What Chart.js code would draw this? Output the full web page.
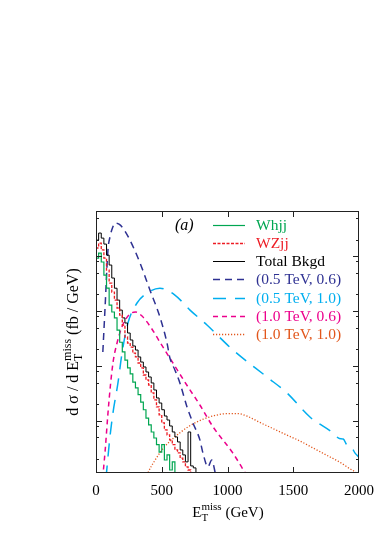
<!DOCTYPE html>
<html><head><meta charset="utf-8">
<script src="https://cdn.jsdelivr.net/npm/chart.js@4/dist/chart.umd.min.js"></script>
<style>html,body{margin:0;padding:0;background:#fff}canvas{display:block}</style>
</head><body>
<canvas id="c" width="385" height="550"></canvas>
<script>
// ---- data ----
const xTickLabels = [0, 500, 1000, 1500, 2000];
const xMajorTicks = [500, 1000, 1500];
const yMajorTicks = [0.001, 0.01, 0.1, 1];
const yMinorTicks = [0.0002, 0.0005, 0.0008, 0.002, 0.005, 0.008, 0.02, 0.05, 0.08, 0.2, 0.5, 0.8, 2, 5];

// Whjj histogram (bin lower edges, GeV)
const whjjBins = [0,20,40,60,80,100,120,140,160,180,200,220,240,260,280,300,320,340,360,380,400,420,440,460,480,500,520,540,560,580,600,620];
const whjj = [0.195,0.92,1.13,0.78,0.45,0.26,0.128,0.096,0.075,0.045,0.027,0.018,0.0128,0.0092,0.0072,0.0051,0.0040,0.0030,0.0022,0.0016,0.00113,0.00085,0.00063,0.00049,0.00037,0.00027,0.00037,0.000195,0.000241,0.000128,0.00018,0.00005];

// WZjj histogram
const wzjjBins = [0,20,40,60,80,100,120,140,160,180,200,220,240,260,280,300,320,340,360,380,400,420,440,460,480,500,520,540,560,580,600,620,640,660,680,700,720,740];
const wzjj = [0.78,1.40,1.72,1.29,0.92,0.556,0.323,0.221,0.158,0.1135,0.0845,0.0556,0.0337,0.0262,0.0221,0.0172,0.0146,0.01134,0.0092,0.00686,0.00556,0.00451,0.00323,0.00241,0.0018,0.00129,0.00092,0.000686,0.000556,0.000452,0.00037,0.000297,0.000262,0.00021,0.00018,0.000146,0.000128,0.00005];

// Total background histogram
const totBins = [0,20,40,60,80,100,120,140,160,180,200,220,240,260,280,300,320,340,360,380,400,420,440,460,480,500,520,540,560,580,600,620,640,660,680,700,720,740,760,780];
const totBkgd = [1.29,1.95,2.62,2.12,1.65,1.04,0.686,0.398,0.26,0.158,0.104,0.075,0.0605,0.0398,0.0297,0.0231,0.0195,0.0146,0.0118,0.0096,0.00778,0.00631,0.00491,0.00366,0.00262,0.00212,0.0016,0.00123,0.00104,0.00081,0.00063,0.000512,0.000415,0.000297,0.000241,0.00018,0.00063,0.000152,0.00014,0.00005];

// Signal (0.5 TeV, 0.6)
const s0506E = [52,68,91,106,125,144,175,205,258,335,410,486,540,562,600,638,692,737,790,813,851,880,910];
const s0506 = [0.018,0.104,1.29,2.21,3.23,3.98,3.8,3.23,1.95,0.746,0.241,0.078,0.0262,0.014,0.00845,0.00491,0.0018,0.00092,0.000452,0.000262,0.000146,0.000195,0.000105];

// Signal (0.5 TeV, 1.0)
const s0510E = [76,84,106,129,167,198,243,312,388,486,600,715,844,1042,1300,1452,1627,1802,1850,1880,1910,1940,1970,2000];
const s0510 = [0.00009,0.000146,0.000512,0.0014,0.00491,0.0172,0.0605,0.14,0.212,0.26,0.195,0.104,0.0556,0.0195,0.00631,0.00323,0.00118,0.000605,0.00048,0.00047,0.00036,0.00034,0.00026,0.00022];

// Signal (1.0 TeV, 0.6)
const s1006E = [50,55,70,90,110,130,160,200,250,300,350,420,490,585,690,790,890,1040,1130,1160];
const s1006 = [0.00009,0.000118,0.000297,0.00129,0.00451,0.0118,0.0262,0.0533,0.0845,0.096,0.081,0.0491,0.0262,0.01134,0.00451,0.00195,0.00078,0.000262,0.000118,0.00009];

// Signal (1.0 TeV, 1.0)
const s1010E = [380,395,450,520,600,700,800,900,1000,1080,1150,1250,1350,1450,1550,1650,1750,1850,1920,1980,2000];
const s1010 = [0.00009,0.000113,0.000195,0.000337,0.000512,0.00078,0.00104,0.00125,0.00136,0.00136,0.00122,0.00093,0.00072,0.000556,0.000433,0.000323,0.000241,0.00018,0.00014,0.000113,0.0001];

const seriesNames = ['Whjj','WZjj','Total Bkgd','(0.5 TeV, 0.6)','(0.5 TeV, 1.0)','(1.0 TeV, 0.6)','(1.0 TeV, 1.0)'];

// ---- styles ----
const styles = [
  {color:'#00a651', dash:[], width:1.2},
  {color:'#ed1c24', dash:[3,1.5], width:1.3},
  {color:'#000000', dash:[], width:1},
  {color:'#2e3192', dash:[7,5], width:1.5},
  {color:'#00aeef', dash:[13,9], width:1.5},
  {color:'#ec008c', dash:[5,4], width:1.5},
  {color:'#e2561b', dash:[1.2,1.8], width:1.3}
];

function pts(xs, ys){ return xs.map((v,i)=>({x:v, y:ys[i]})); }

function histDS(i, xs, ys){
  return {label:seriesNames[i], data:pts(xs,ys), stepped:'after', borderColor:styles[i].color,
    borderDash:styles[i].dash, borderWidth:styles[i].width, pointRadius:0, fill:false};
}
function curveDS(i, xs, ys){
  return {label:seriesNames[i], data:pts(xs,ys), cubicInterpolationMode:'monotone', borderColor:styles[i].color,
    borderDash:styles[i].dash, borderWidth:styles[i].width, pointRadius:0, fill:false};
}

const SERIF = '"Liberation Serif", "Times New Roman", serif';

const overlay = {
  id:'overlay',
  afterDraw(chart){
    const ctx = chart.ctx, a = chart.chartArea, xs = chart.scales.x, ys = chart.scales.y;
    ctx.save();
    // frame
    ctx.strokeStyle = '#222'; ctx.lineWidth = 1; ctx.setLineDash([]);
    ctx.strokeRect(a.left+0.5, a.top+0.5, a.right-a.left-1, a.bottom-a.top-1);
    // x ticks (inward, top and bottom)
    ctx.beginPath();
    xMajorTicks.forEach(v=>{
      const px = Math.round(xs.getPixelForValue(v))+0.5;
      ctx.moveTo(px, a.bottom); ctx.lineTo(px, a.bottom-6);
      ctx.moveTo(px, a.top); ctx.lineTo(px, a.top+6);
    });
    // y ticks
    yMajorTicks.forEach(v=>{
      const py = Math.round(ys.getPixelForValue(v))+0.5;
      ctx.moveTo(a.left, py); ctx.lineTo(a.left+6, py);
      ctx.moveTo(a.right, py); ctx.lineTo(a.right-6, py);
    });
    yMinorTicks.forEach(v=>{
      const py = Math.round(ys.getPixelForValue(v))+0.5;
      if (py < a.top+1 || py > a.bottom-1) return;
      ctx.moveTo(a.left, py); ctx.lineTo(a.left+3, py);
      ctx.moveTo(a.right, py); ctx.lineTo(a.right-3, py);
    });
    ctx.stroke();

    // x tick labels
    ctx.fillStyle = '#000';
    ctx.font = '15px ' + SERIF;
    ctx.textAlign = 'center'; ctx.textBaseline = 'alphabetic';
    xTickLabels.forEach(v=>{
      ctx.fillText(String(v), xs.getPixelForValue(v), 495);
    });

    // rich text helper: E with sub T and sup miss
    function richWidth(parts, big, small){
      let w = 0;
      parts.forEach(p=>{
        if (p.stack){ ctx.font = small + 'px ' + SERIF; w += Math.max(ctx.measureText(p.sub).width, ctx.measureText(p.sup).width); }
        else { ctx.font = big + 'px ' + SERIF; w += ctx.measureText(p.t).width; }
      });
      return w;
    }
    function richDraw(parts, x0, base, big, small){
      let x = x0;
      ctx.textAlign = 'left';
      parts.forEach(p=>{
        if (p.stack){
          ctx.font = small + 'px ' + SERIF;
          ctx.fillText(p.sup, x, base-7);
          ctx.fillText(p.sub, x, base+4);
          x += Math.max(ctx.measureText(p.sub).width, ctx.measureText(p.sup).width);
        } else {
          ctx.font = big + 'px ' + SERIF;
          ctx.fillText(p.t, x, base);
          x += ctx.measureText(p.t).width;
        }
      });
    }
    // x title
    const xt = [{t:'E'},{stack:true, sub:'T', sup:'miss'},{t:' (GeV)'}];
    const xw = richWidth(xt, 15, 11);
    richDraw(xt, 228 - xw/2, 517, 15, 11);
    // y title (rotated)
    const yt = [{t:'d \u03c3 / d E'},{stack:true, sub:'T', sup:'miss'},{t:' (fb / GeV)'}];
    const yw = richWidth(yt, 16, 12);
    ctx.save();
    ctx.translate(78, 342);
    ctx.rotate(-Math.PI/2);
    richDraw(yt, -yw/2, 0, 16, 12);
    ctx.restore();

    // (a)
    ctx.font = 'italic 16px ' + SERIF;
    ctx.textAlign = 'left';
    ctx.fillText('(a)', 175, 230);

    // legend
    const rowY = [224.5, 242.8, 261.1, 279.4, 297.7, 316, 334.3];
    ctx.font = '15.5px ' + SERIF;
    seriesNames.forEach((name,i)=>{
      const s = styles[i], yy = rowY[i];
      ctx.strokeStyle = s.color; ctx.lineWidth = s.width; ctx.setLineDash(s.dash);
      ctx.beginPath(); ctx.moveTo(213, Math.round(yy)+0.5); ctx.lineTo(245, Math.round(yy)+0.5); ctx.stroke();
      ctx.setLineDash([]);
      ctx.fillStyle = s.color;
      ctx.fillText(name, 256, yy+5);
    });
    ctx.restore();
  }
};

new Chart(document.getElementById('c'), {
  type:'line',
  data:{ datasets:[
    histDS(0, whjjBins, whjj),
    histDS(1, wzjjBins, wzjj),
    histDS(2, totBins, totBkgd),
    curveDS(3, s0506E, s0506),
    curveDS(4, s0510E, s0510),
    curveDS(5, s1006E, s1006),
    curveDS(6, s1010E, s1010)
  ]},
  options:{
    responsive:false, animation:false, devicePixelRatio:1,
    layout:{padding:{left:96, right:26, top:211, bottom:77}},
    plugins:{legend:{display:false}, tooltip:{enabled:false}},
    scales:{
      x:{type:'linear', min:0, max:2000, display:false},
      y:{type:'logarithmic', min:0.000113, max:6.6, display:false}
    }
  },
  plugins:[overlay]
});
</script>
</body></html>
